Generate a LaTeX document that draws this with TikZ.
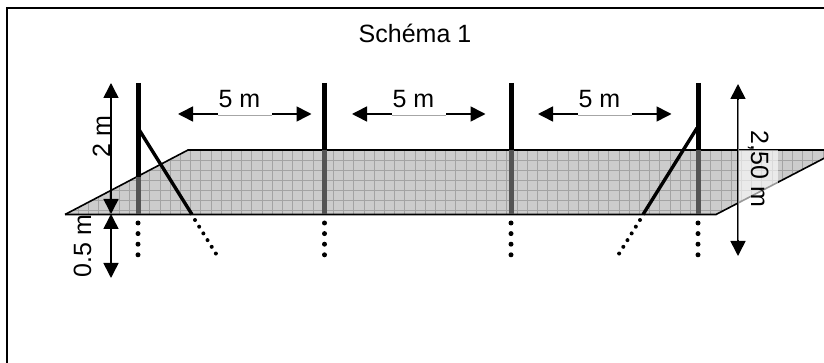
\documentclass[tikz,border=0pt]{standalone}
\usepackage{fontspec}
\setmainfont{Liberation Sans}
\usetikzlibrary{arrows.meta}
\definecolor{meshfill}{gray}{0.80}
\definecolor{meshline}{gray}{0.64}
\definecolor{postlow}{gray}{0.33}
\tikzset{
  x=1pt,y=-1pt,
  lab/.style={font=\fontsize{25}{28}\selectfont,inner sep=0pt,text=black,anchor=base},
  dim/.style={line width=1.6pt,{Triangle[width=15pt,length=15pt]}-{Triangle[width=15pt,length=15pt]}},
  post/.style={line width=5pt,black},
  postgrey/.style={line width=5pt,postlow},
  brace/.style={line width=3.4pt,black},
  dots/.style={line width=5pt,line cap=round,dash pattern=on 0pt off 10.6pt},
  bracedots/.style={line width=4pt,line cap=round,dash pattern=on 0pt off 7.9pt},
  edge/.style={line width=1.6pt,black},
}
\begin{document}
\begin{tikzpicture}
\useasboundingbox (0,0) rectangle (824,363);
\fill[white] (0,0) rectangle (824,363);
\draw[line width=2pt] (6.5,363) -- (6.5,8.5) -- (824,8.5);

% mesh
\coordinate (mA) at (65,214.5);
\coordinate (mB) at (188,150);
\coordinate (mC) at (840,150);
\coordinate (mD) at (716,214.5);
\begin{scope}
\clip (0,0) rectangle (824,363);
\fill[meshfill] (mA) -- (mB) -- (mC) -- (mD) -- cycle;
\begin{scope}
\clip (mA) -- (mB) -- (mC) -- (mD) -- cycle;
\foreach \i in {0,...,76}
  \draw[meshline,line width=0.6pt] ({68+\i*10.2},150) -- ({68+\i*10.2},215);
\foreach \j in {0,...,6}
  \draw[meshline,line width=0.6pt] (60,{150+\j*10.1}) -- (824,{150+\j*10.1});
\end{scope}
\draw[edge] (mA) -- (mB) -- (mC);
\draw[edge] (mA) -- (mD) -- (mC);
\end{scope}

% posts
\coordinate (p1t) at (138,83);  \coordinate (p1m) at (138,177); \coordinate (p1b) at (138,214);
\coordinate (p2t) at (324.5,83);\coordinate (p2m) at (324.5,150);\coordinate (p2b) at (324.5,214);
\coordinate (p3t) at (511,83);  \coordinate (p3m) at (511,150); \coordinate (p3b) at (511,214);
\coordinate (p4t) at (698,83);  \coordinate (p4m) at (698,150); \coordinate (p4b) at (698,214);
\foreach \p in {1,2,3,4} {
  \draw[post] (p\p t) -- (p\p m);
  \draw[postgrey] (p\p m) -- (p\p b);
}
\foreach \x in {138,324.5,511,698}
  \draw[dots] (\x,223) -- (\x,256);

% braces
\coordinate (b1t) at (138,128); \coordinate (b1b) at (192,214.5);
\coordinate (b4t) at (697,128); \coordinate (b4b) at (643,214.5);
\draw[brace] (b1t) -- (b1b);
\draw[brace] (b4t) -- (b4b);
\draw[bracedots] (195,220) -- (216.5,254.5);
\draw[bracedots] (640,220) -- (618.5,254.5);

% vertical dimensions
\coordinate (d2t) at (111,83);  \coordinate (d2b) at (111,214);
\coordinate (d5b) at (111,278);
\draw[dim] (d2t) -- (d2b);
\draw[dim] (d2b) -- (d5b);
\node[lab,rotate=90] (twom) at (110,136.5) {2 m};
\node[lab,rotate=90] (halfm) at (91,246) {0.5 m};

% 5 m dimensions
\foreach \n/\x in {a/178,b/352,c/538} {
  \coordinate (h\n l) at (\x,114);
  \coordinate (h\n r) at ({\x+133.5},114);
  \draw[dim] (h\n l) -- (h\n r);
  \fill[white] ({\x+40},104) rectangle ({\x+94},113.2);
  \fill[white] ({\x+40},113) rectangle ({\x+94},115.2);
  \draw[gray!70,line width=0.7pt] ({\x+40},115) -- ({\x+94},115);
  \node[lab] (five\n) at ({\x+61.5},108) {5 m};
}

% 2,50 m dimension
\coordinate (d25t) at (738,84);
\coordinate (d25b) at (738,256);
\draw[dim] (d25t) -- (d25b);
\fill[white,opacity=0.6] (738,150) rectangle (778,205);
\draw[gray,line width=1pt] (738,100) -- (738,240);
\node[lab,rotate=-90] (twofifty) at (751,169) {2,50 m};

% title
\node[lab] (title) at (415,43) {Schéma 1};
\end{tikzpicture}
\end{document}
